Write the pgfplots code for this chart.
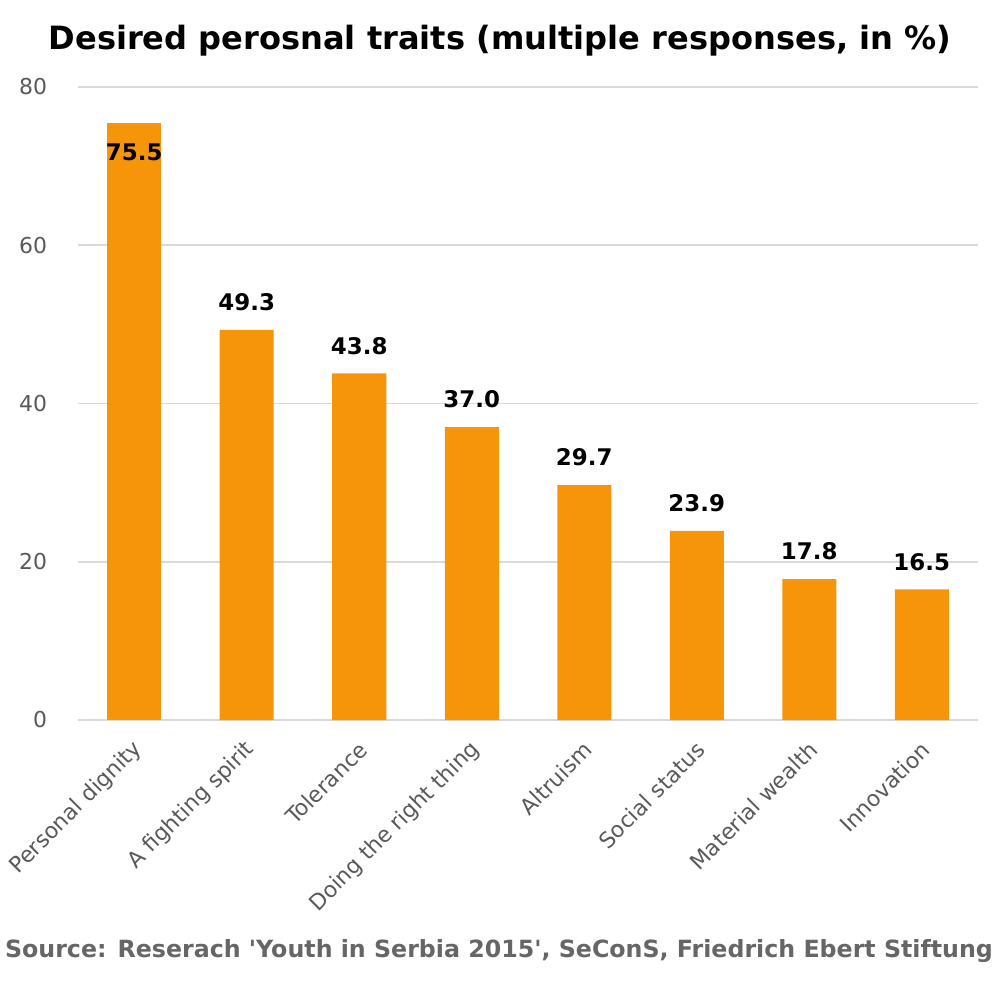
\documentclass[border=0pt]{standalone}
\usepackage{pgfplots}
\pgfplotsset{compat=1.18}
\usepackage{fontspec}
\setmainfont{DejaVu Sans}
\definecolor{barorange}{HTML}{F7950A}
\definecolor{gridgray}{HTML}{D9D9D9}
\definecolor{labelgray}{HTML}{595959}
\definecolor{sourcegray}{HTML}{666666}
\begin{document}
\begin{tikzpicture}
\begin{axis}[
  scale only axis,
  width=450bp, height=316.5bp,
  xmin=-0.5, xmax=7.5,
  ymin=0, ymax=80,
  ytick={0,20,40,60,80},
  xtick={0,1,2,3,4,5,6,7},
  xticklabels={Personal dignity,A fighting spirit,Tolerance,Doing the right thing,Altruism,Social status,Material wealth,Innovation},
  axis line style={draw=none},
  major tick length=0pt,
  ymajorgrids,
  grid style={gridgray, line width=0.8bp},
  /pgf/number format/assume math mode=true,
  tick label style={font=\fontsize{11}{13}\selectfont, text=labelgray},
  yticklabel style={xshift=-12bp},
  xticklabel style={anchor=east, xshift=4.5bp, yshift=-10.5bp, rotate=45},
  ybar, bar width=27bp, bar shift=0pt,
  nodes near coords={\pgfmathprintnumber[fixed,fixed zerofill,precision=1]{\pgfplotspointmeta}},
  every node near coord/.append style={font=\bfseries\fontsize{11.5}{13}\selectfont, text=black},
  clip=false,
]
\addplot[fill=barorange, draw=none,
  every node near coord/.append style={anchor=north, yshift=-7bp}] coordinates {(0,75.5)};
\addplot[fill=barorange, draw=none,
  every node near coord/.append style={anchor=south, yshift=6bp}] coordinates {
  (1,49.3) (2,43.8) (3,37.0) (4,29.7) (5,23.9) (6,17.8) (7,16.5)};
\end{axis}
\node[font=\bfseries\fontsize{16.1}{19}\selectfont, text=black] at (211bp,339.5bp) {Desired perosnal traits (multiple responses, in \%)};
\node[font=\bfseries\fontsize{11.9}{14}\selectfont, text=sourcegray] at (210.5bp,-115.5bp) {Source: Reserach \textquotesingle Youth in Serbia 2015\textquotesingle, SeConS, Friedrich Ebert Stiftung};
\pgfresetboundingbox
\path[use as bounding box] (-39bp,-140bp) rectangle (461bp,360bp);
\end{tikzpicture}
\end{document}
